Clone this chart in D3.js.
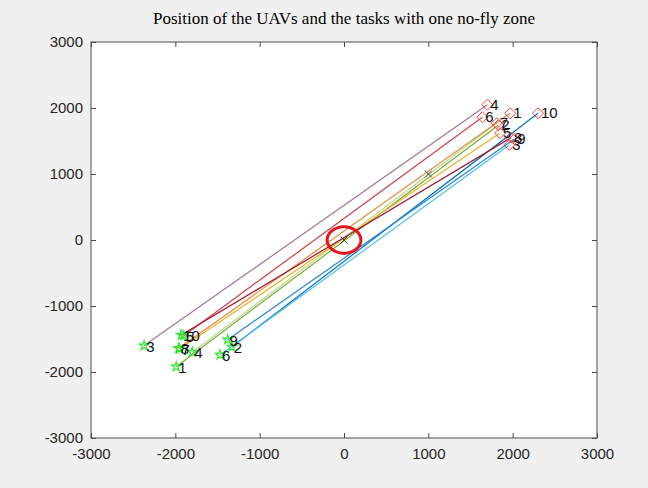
<!DOCTYPE html>
<html><head><meta charset="utf-8">
<script src="https://cdn.jsdelivr.net/npm/d3@7"></script>
<style>
html,body{margin:0;padding:0;background:#f0f0f0;}
svg{display:block;}
</style></head>
<body>
<svg id="chart" width="648" height="488"></svg>
<script>
const title = "Position of the UAVs and the tasks with one no-fly zone";
const uavIds = [1,2,3,4,5,6,7,8,9,10];
const uavX = [-1990,-1330,-2370,-1800,-1900,-1470,-1950,-1960,-1380,-1930];
const uavY = [-1920,-1620,-1600,-1700,-1450,-1740,-1650,-1640,-1510,-1440];
const taskIds = [1,2,3,4,5,6,7,8,9,10];
const taskX = [1970,1830,1960,1700,1850,1640,1810,1980,2020,2300];
const taskY = [1920,1740,1440,2050,1620,1860,1770,1550,1530,1920];
// assignment: uav index -> task index, and path colour
const assignTask = [2,10,4,7,6,3,5,1,9,8];
const pathColor = ["#77AC30","#0072BD","#A0749E","#B9D98C","#C8414A","#4DBEEE","#EDB120","#E08A3A","#2E86C8","#A2142F"];
const crossX = [0,1000];
const crossY = [0,1000];
const zoneX = 0, zoneY = 0, zoneR = 200;
const xTicks = [-3000,-2000,-1000,0,1000,2000,3000];
const yTicks = [-3000,-2000,-1000,0,1000,2000,3000];

const svg = d3.select("#chart");
const L=91, R=597, T=42, B=438;
const x = d3.scaleLinear().domain([-3000,3000]).range([L,R]);
const y = d3.scaleLinear().domain([-3000,3000]).range([B,T]);
const fmt = d => String(d);

svg.append("rect").attr("x",L).attr("y",T).attr("width",R-L).attr("height",B-T).attr("fill","#fff");

// title
svg.append("text").attr("x",(L+R)/2).attr("y",24).attr("text-anchor","middle")
  .attr("font-family","'Liberation Serif','Times New Roman',serif").attr("font-size",17).attr("fill","#000").text(title);

const g = svg.append("g");
// paths
uavIds.forEach((id,i)=>{
  const t = assignTask[i]-1;
  g.append("line").attr("x1",x(uavX[i])).attr("y1",y(uavY[i])).attr("x2",x(taskX[t])).attr("y2",y(taskY[t]))
   .attr("stroke",pathColor[i]).attr("stroke-width",1.2);
});

// no-fly zone
const circ = d3.range(0,361,5).map(a=>[zoneX+zoneR*Math.cos(a*Math.PI/180), zoneY+zoneR*Math.sin(a*Math.PI/180)]);
g.append("path").attr("d", d3.line().x(d=>x(d[0])).y(d=>y(d[1]))(circ))
  .attr("fill","none").attr("stroke","#e8141c").attr("stroke-width",3);

// crosses
crossX.forEach((cx,i)=>{
  const px=x(cx), py=y(crossY[i]), s=3.5;
  g.append("path").attr("d",`M${px-s},${py-s}L${px+s},${py+s}M${px-s},${py+s}L${px+s},${py-s}`)
   .attr("stroke","#444").attr("stroke-width",1);
});

// tasks (red diamonds)
taskIds.forEach((id,i)=>{
  const px=x(taskX[i]), py=y(taskY[i]), s=5.5;
  g.append("path").attr("d",`M${px},${py-s}L${px+s},${py}L${px},${py+s}L${px-s},${py}Z`)
   .attr("fill","none").attr("stroke","#f0434f").attr("stroke-width",1);
  g.append("text").attr("x",px+3).attr("y",py+5).attr("font-family","Arial, 'Liberation Sans', sans-serif")
   .attr("font-size",15).attr("fill","#111").text(id);
});

// uavs (green stars)
const star = d3.symbol().type(d3.symbolStar).size(28);
uavIds.forEach((id,i)=>{
  const px=x(uavX[i]), py=y(uavY[i]);
  g.append("path").attr("d",star()).attr("transform",`translate(${px},${py})`)
   .attr("fill","none").attr("stroke","#2ee82e").attr("stroke-width",1.2);
  g.append("text").attr("x",px+2).attr("y",py+6).attr("font-family","Arial, 'Liberation Sans', sans-serif")
   .attr("font-size",15).attr("fill","#111").text(id);
});

// axes
const axc = "#4d4d4d";
svg.append("rect").attr("x",L).attr("y",T).attr("width",R-L).attr("height",B-T).attr("fill","none").attr("stroke",axc).attr("stroke-width",1);
const xa = d3.axisBottom(x).tickValues(xTicks).tickSize(-5).tickPadding(10).tickFormat(fmt);
const ya = d3.axisLeft(y).tickValues(yTicks).tickSize(-5).tickPadding(8).tickFormat(fmt);
const gx = svg.append("g").attr("transform",`translate(0,${B})`).call(xa);
const gy = svg.append("g").attr("transform",`translate(${L},0)`).call(ya);
[gx,gy].forEach(a=>{
  a.select(".domain").remove();
  a.selectAll("line").attr("stroke",axc);
  a.selectAll("text").attr("font-family","Arial, 'Liberation Sans', sans-serif").attr("font-size",15).attr("fill","#262626");
});
// mirrored ticks
const gt = svg.append("g").attr("transform",`translate(0,${T})`).call(d3.axisTop(x).tickValues(xTicks).tickSize(-5).tickFormat(""));
const gr = svg.append("g").attr("transform",`translate(${R},0)`).call(d3.axisRight(y).tickValues(yTicks).tickSize(-5).tickFormat(""));
[gt,gr].forEach(a=>{a.select(".domain").remove(); a.selectAll("line").attr("stroke",axc);});
</script>
</body></html>
